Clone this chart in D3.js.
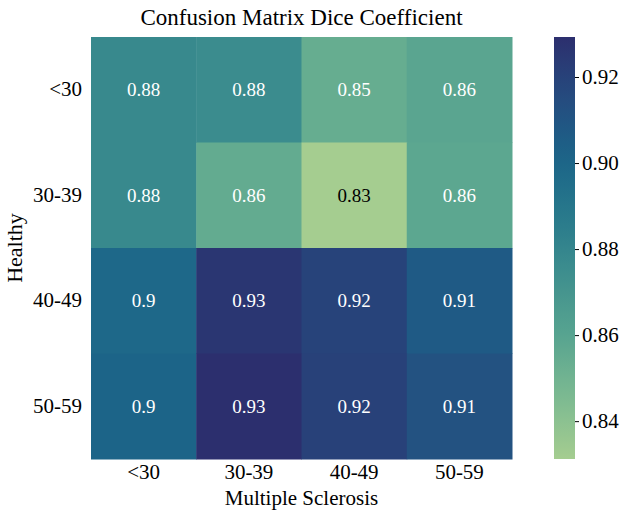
<!DOCTYPE html>
<html>
<head>
<meta charset="utf-8">
<script src="https://cdn.jsdelivr.net/npm/d3@7"></script>
<style>
body { margin: 0; background: #fff; }
</style>
</head>
<body>
<svg id="chart" width="624" height="517"></svg>
<script>
var svg = d3.select('#chart');
var serif = '"Liberation Serif", "Times New Roman", serif';

// data
var rowLabels = ['<30', '30-39', '40-49', '50-59'];   // Healthy
var colLabels = ['<30', '30-39', '40-49', '50-59'];   // Multiple Sclerosis
var row_lt30 = [0.878, 0.876, 0.854, 0.859];
var row_30_39 = [0.878, 0.8555, 0.8312, 0.858];
var row_40_49 = [0.899, 0.926, 0.9195, 0.9067];
var row_50_59 = [0.901, 0.9293, 0.9205, 0.9116];
var cbTicks = [0.84, 0.86, 0.88, 0.90, 0.92];
var vmin = 0.8312, vmax = 0.9293;

var rows = [row_lt30, row_30_39, row_40_49, row_50_59];
var cells = [];
rows.forEach(function(r, i) {
	r.forEach(function(v, j) { cells.push({row: rowLabels[i], col: colLabels[j], v: v}); });
});

// approximation of seaborn "crest"
var crest = d3.piecewise(d3.interpolateRgb, ['#a5cd90', '#7dba91', '#59a590', '#40908e', '#287a8c', '#1c6488', '#254b7f', '#2c2f6e']);
var color = d3.scaleSequential(crest).domain([vmin, vmax]);

// relative luminance, as seaborn picks annotation colour
function relLum(c) {
	var ch = [c.r, c.g, c.b].map(function(u) {
		u = u / 255;
		return u <= 0.03928 ? u / 12.92 : Math.pow((u + 0.055) / 1.055, 2.4);
	});
	return 0.2126*ch[0] + 0.7152*ch[1] + 0.0722*ch[2];
}

var mLeft = 91, mRight = 512, mTop = 37, mBottom = 459;
var x = d3.scaleBand().domain(colLabels).range([mLeft, mRight]);
var y = d3.scaleBand().domain(rowLabels).range([mTop, mBottom]);

svg.append('g').selectAll('rect').data(cells).enter().append('rect')
	.attr('x', d => x(d.col))
	.attr('y', d => y(d.row))
	.attr('width', x.bandwidth() + 0.5)
	.attr('height', y.bandwidth() + 0.5)
	.attr('fill', d => color(d.v));

svg.append('g').selectAll('text').data(cells).enter().append('text')
	.attr('x', d => x(d.col) + x.bandwidth()/2)
	.attr('y', d => y(d.row) + y.bandwidth()/2)
	.attr('dy', '0.35em')
	.attr('text-anchor', 'middle')
	.attr('font-family', serif)
	.attr('font-size', 19)
	.attr('fill', d => relLum(d3.rgb(color(d.v))) > 0.408 ? '#000' : '#fff')
	.text(d => +d.v.toFixed(2));

// axes
var xAxis = svg.append('g').attr('transform', 'translate(0,' + mBottom + ')')
	.call(d3.axisBottom(x).tickSize(0).tickPadding(5));
var yAxis = svg.append('g').attr('transform', 'translate(' + mLeft + ',0)')
	.call(d3.axisLeft(y).tickSize(0).tickPadding(9));
[xAxis, yAxis].forEach(function(a) {
	a.attr('font-family', serif).attr('font-size', 21);
	a.select('.domain').remove();
	a.selectAll('text').attr('fill', '#000');
});

svg.append('text').attr('x', (mLeft + mRight)/2).attr('y', 25)
	.attr('font-family', serif)
	.attr('text-anchor', 'middle').attr('font-size', 23).text('Confusion Matrix Dice Coefficient');
svg.append('text').attr('x', (mLeft + mRight)/2).attr('y', 505)
	.attr('font-family', serif)
	.attr('text-anchor', 'middle').attr('font-size', 21).text('Multiple Sclerosis');
svg.append('text').attr('transform', 'translate(22,' + ((mTop + mBottom)/2) + ') rotate(-90)')
	.attr('font-family', serif)
	.attr('text-anchor', 'middle').attr('font-size', 22).text('Healthy');

// colorbar
var cbX = 554, cbW = 21;
var cbScale = d3.scaleLinear().domain([vmin, vmax]).range([mBottom, mTop]);
var defs = svg.append('defs');
var grad = defs.append('linearGradient').attr('id', 'cbgrad')
	.attr('x1', 0).attr('y1', 1).attr('x2', 0).attr('y2', 0);
d3.range(0, 1.0001, 0.05).forEach(function(t) {
	grad.append('stop').attr('offset', t).attr('stop-color', crest(t));
});
svg.append('rect').attr('x', cbX).attr('y', mTop).attr('width', cbW).attr('height', mBottom - mTop)
	.attr('fill', 'url(#cbgrad)');
var cbAxis = svg.append('g').attr('transform', 'translate(' + (cbX + cbW) + ',0)')
	.call(d3.axisRight(cbScale).tickValues(cbTicks).tickFormat(d3.format('.2f')).tickSize(4).tickPadding(3));
cbAxis.attr('font-family', serif).attr('font-size', 21);
cbAxis.select('.domain').remove();
cbAxis.selectAll('text').attr('fill', '#000');
</script>
</body>
</html>
